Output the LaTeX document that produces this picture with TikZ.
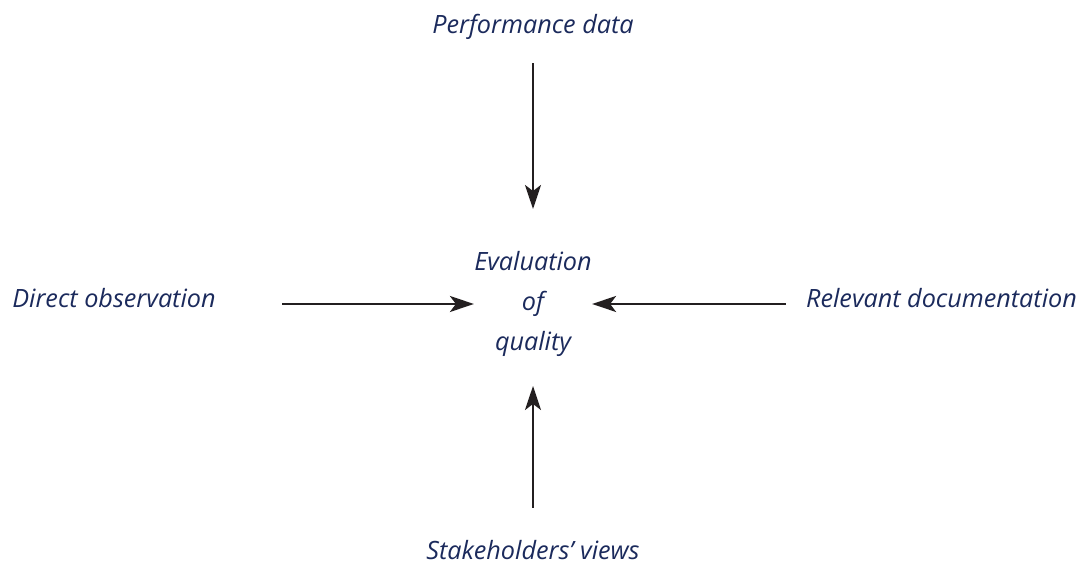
\documentclass[tikz,border=0pt]{standalone}
\usepackage{fontspec}
\setmainfont{Open Sans}
\usepackage{tikz}
\usetikzlibrary{arrows.meta}

\definecolor{navytext}{HTML}{1B2A5C}
\definecolor{arrowgrey}{HTML}{231F20}

\begin{document}
\begin{tikzpicture}[%
  x=1pt, y=1pt,
  lbl/.style={font=\fontsize{12.6}{20}\selectfont\itshape, text=navytext, inner sep=0pt},
  feed/.style={draw=arrowgrey, line width=1.1pt, -{Stealth[length=12pt, width=8pt, inset=3pt]}}]
  \useasboundingbox (0,0) rectangle (540,283);
  \node[lbl] (perf) at (266.5,269.5) {Performance data};
  \node[lbl, align=center] (eval) at (266.5,131) {Evaluation\\of\\quality};
  \node[lbl] (direct) at (57,134) {Direct observation};
  \node[lbl] (docs) at (470.75,134) {Relevant documentation};
  \node[lbl] (views) at (266.5,8) {Stakeholders’ views};
  \draw[feed, shorten <=11.5pt, shorten >=21pt] (perf) -- (eval);
  \draw[feed, shorten <=33pt] (direct.east |- eval.west) -- (eval.west);
  \draw[feed, shorten <=10pt] (docs.west |- eval.east) -- (eval.east);
  \draw[feed, shorten <=16pt, shorten >=14.5pt] (views) -- (eval);
\end{tikzpicture}
\end{document}
